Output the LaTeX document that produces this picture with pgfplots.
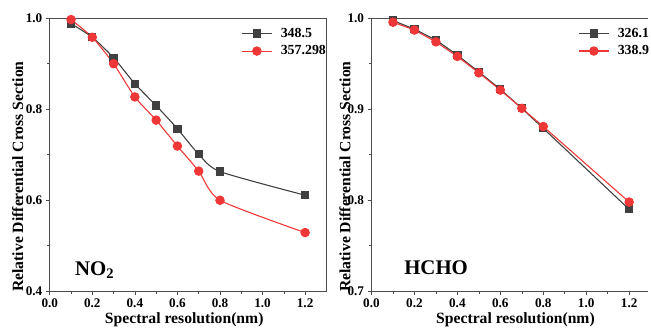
\documentclass[border=0pt]{standalone}
\usepackage{fontspec}
\setmainfont{Liberation Serif}
\usepackage{pgfplots}
\pgfplotsset{compat=1.18}
\definecolor{cb}{RGB}{64,64,64}
\definecolor{cr}{RGB}{240,55,55}
\begin{document}
\begin{tikzpicture}
\pgfplotsset{
  common/.style={
    scale only axis, height=274.4bp,
    xmin=0, xtick={0,0.2,0.4,0.6,0.8,1.0,1.2}, minor x tick num=1,
    minor y tick num=1,
    tick align=outside, major tick length=4bp, minor tick length=2.5bp,
    xtick pos=bottom, ytick pos=left,
    axis line style={line width=0.6pt, black!70},
    tick style={line width=0.6pt, black!70},
    tick label style={font=\fontsize{13.3}{14}\selectfont\bfseries},
    /pgf/number format/fixed, /pgf/number format/fixed zerofill,
    /pgf/number format/precision=1, /pgf/number format/assume math mode=true,
    xlabel={Spectral resolution(nm)},
    ylabel={Relative Differential Cross Section},
    label style={font=\fontsize{15.8}{16}\selectfont\bfseries},
    legend style={draw=none, fill=none, font=\fontsize{14}{15}\selectfont\bfseries,
      row sep=3bp, inner sep=0pt},
    legend cell align=left,
    legend style={/tikz/every odd column/.append style={column sep=6.5bp}},
    legend image code/.code={
      \draw[mark repeat=2,mark phase=2] plot coordinates {(0bp,0bp) (15bp,0bp) (30bp,0bp)};},
  },
  sb/.style={cb, line width=1.1pt, mark=square*, mark size=3.6bp, mark options={fill=cb, draw=cb}},
  sr/.style={cr, line width=1.1pt, mark=*, mark size=4.2bp, mark options={fill=cr, draw=cr}},
}
\begin{axis}[common, width=278bp, xmax=1.3, ymin=0.4, ymax=1.0,
  ytick={0.4,0.6,0.8,1.0},
  xlabel style={at={(axis description cs:0.486,0)}, anchor=base, yshift=-32.3bp},
  ylabel style={at={(axis description cs:-0.096,0.42)}, anchor=base},
  legend style={at={(rel axis cs:0.692,0.972)}, anchor=north west}]
\addplot[sb, smooth, tension=0.4] coordinates {(0.1,0.988) (0.2,0.958) (0.3,0.913) (0.4,0.856) (0.5,0.808) (0.6,0.757) (0.7,0.701) (0.8,0.663) (1.2,0.611)};
\addlegendentry{348.5}
\addplot[sr, smooth, tension=0.4] coordinates {(0.1,0.997) (0.2,0.958) (0.3,0.900) (0.4,0.827) (0.5,0.776) (0.6,0.719) (0.7,0.664) (0.8,0.600) (1.2,0.529)};
\addlegendentry{357.298}
\node[anchor=base west, font=\fontsize{21}{21}\selectfont\bfseries] at (rel axis cs:0.079,0.058) {NO\textsubscript{2}};
\end{axis}
\begin{axis}[common, xshift=323.3bp, width=277.7bp, xmax=1.287, ymin=0.7, ymax=1.0,
  axis x line*=box, axis y line*=left, xtick pos=bottom,
  ytick={0.7,0.8,0.9,1.0},
  xlabel style={at={(axis description cs:0.521,0)}, anchor=base, yshift=-32.3bp},
  ylabel style={at={(axis description cs:-0.0767,0.42)}, anchor=base},
  legend style={at={(rel axis cs:0.748,0.972)}, anchor=north west}]
\addplot[sb] coordinates {(0.1,0.9974) (0.2,0.988) (0.3,0.976) (0.4,0.9595) (0.5,0.941) (0.6,0.922) (0.7,0.901) (0.8,0.879) (1.2,0.790)};
\addlegendentry{326.1}
\addplot[sr] coordinates {(0.1,0.9956) (0.2,0.987) (0.3,0.974) (0.4,0.958) (0.5,0.940) (0.6,0.921) (0.7,0.901) (0.8,0.881) (1.2,0.798)};
\addlegendentry{338.9}
\node[anchor=base west, font=\fontsize{21}{21}\selectfont\bfseries] at (rel axis cs:0.106,0.061) {HCHO};
\end{axis}
\path[use as bounding box] (-50bp,-36.3bp) rectangle (601bp,292.7bp);
\end{tikzpicture}
\end{document}
